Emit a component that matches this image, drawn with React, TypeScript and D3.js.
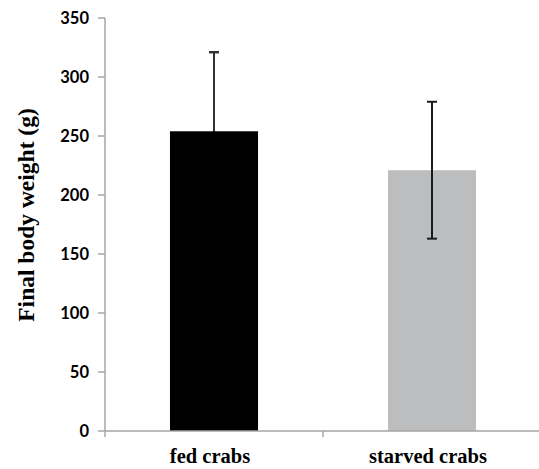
import React from 'react';
import * as d3 from 'd3';

const categories = ['fed crabs', 'starved crabs'];
const means = [254, 221];
const errUpper = [321, 279];
const errLower = [187, 163];
const barColors = ['#000000', '#bcbdbf'];
const yTicks = [0, 50, 100, 150, 200, 250, 300, 350];

const W = 539;
const H = 469;
const left = 105;
const right = 541;
const top = 18;
const bottom = 431;

const App: React.FC = () => {
  const y = d3.scaleLinear().domain([0, 350]).range([bottom, top]);
  const x = d3.scaleBand<string>()
    .domain(categories)
    .range([left, right])
    .paddingInner(0.596)
    .paddingOuter(0.298);
  const step = x.step();
  const axisColor = '#a6a6a6';
  const serif = "'Liberation Serif', 'Times New Roman', serif";
  const fedX = (x(categories[0]) as number) + x.bandwidth() / 2;

  return (
    <svg width={W} height={H} style={{ position: 'absolute', left: 0, top: 0 }}>
      <rect width={W} height={H} fill="#fff" />

      {/* bars */}
      {categories.map((c, i) => (
        <rect key={c} x={x(c)} y={y(means[i])} width={x.bandwidth()}
          height={y(0) - y(means[i])} fill={barColors[i]} />
      ))}

      {/* error bars */}
      {categories.map((c, i) => {
        const cx = (x(c) as number) + x.bandwidth() / 2;
        return (
          <g key={c} stroke={i === 0 ? '#000' : '#1a1a1a'} strokeWidth={2}>
            <line x1={cx} x2={cx} y1={y(errUpper[i])} y2={y(errLower[i])} />
            <line x1={cx - 5} x2={cx + 5} y1={y(errUpper[i])} y2={y(errUpper[i])} />
            <line x1={cx - 5} x2={cx + 5} y1={y(errLower[i])} y2={y(errLower[i])} />
          </g>
        );
      })}
      {/* visible upper whisker of the fed bar is a lighter grey */}
      <g stroke="#333" strokeWidth={2}>
        <line x1={fedX} x2={fedX} y1={y(errUpper[0])} y2={y(means[0])} />
        <line x1={fedX - 5} x2={fedX + 5} y1={y(errUpper[0])} y2={y(errUpper[0])} />
      </g>

      {/* y axis */}
      <line x1={left} x2={left} y1={y(350)} y2={y(0)} stroke={axisColor} strokeWidth={1.5} />
      {yTicks.map(t => (
        <g key={t}>
          <line x1={left - 7} x2={left} y1={y(t)} y2={y(t)} stroke={axisColor} strokeWidth={1.5} />
          <text x={89} y={y(t)} dy="0.36em" textAnchor="end"
            fontFamily="Lato, 'Open Sans', sans-serif" fontWeight="bold" fontSize={16.5} fill="#000">
            {t}
          </text>
        </g>
      ))}

      {/* x axis */}
      <line x1={left} x2={W} y1={y(0)} y2={y(0)} stroke={axisColor} strokeWidth={1.5} />
      {d3.range(categories.length + 1).map(i => (
        <line key={i} x1={left + step * i} x2={left + step * i} y1={y(0)} y2={y(0) + 6}
          stroke={axisColor} strokeWidth={1.5} />
      ))}
      {categories.map(c => (
        <text key={c} x={(x(c) as number) + x.bandwidth() / 2 - 4} y={463} textAnchor="middle"
          fontFamily={serif} fontWeight="bold" fontSize={20.5} fill="#000">
          {c}
        </text>
      ))}

      {/* y label */}
      <text transform={`translate(34, 215) rotate(-90)`} textAnchor="middle"
        fontFamily={serif} fontWeight="bold" fontSize={23.5} fill="#000">
        Final body weight (g)
      </text>
    </svg>
  );
};

export default App;
